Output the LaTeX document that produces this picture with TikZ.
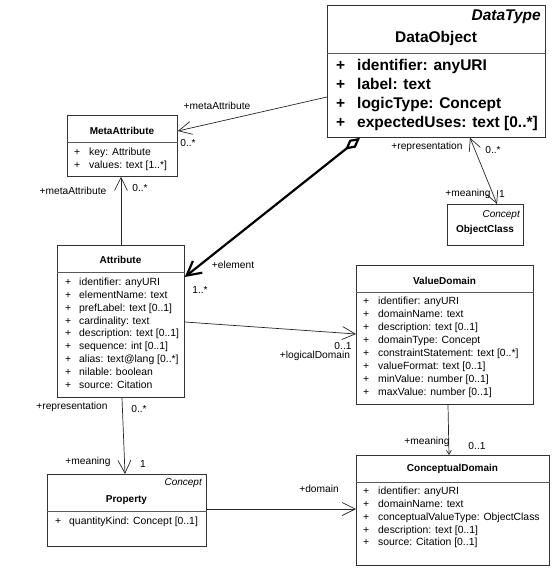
\documentclass[tikz,border=0pt]{standalone}
\usepackage{fontspec}
\setmainfont{Liberation Sans}
\usetikzlibrary{arrows.meta,calc}

\tikzset{
  classbox/.style={draw=black!80, fill=white, line width=0.8pt, inner sep=0pt, anchor=north west},
  divline/.style={draw=black!65, line width=0.8pt},
  member/.style={anchor=west, inner sep=0pt, font=\fontsize{10.4}{12}\selectfont, text height=7.6pt, text depth=2.2pt},
  bigmember/.style={anchor=west, inner sep=0pt, font=\fontsize{15.5}{18}\selectfont\bfseries, text height=11.5pt, text depth=3.3pt},
  classtitle/.style={inner sep=0pt, font=\fontsize{10}{12}\selectfont\bfseries},
  stereo/.style={anchor=east, inner sep=0pt, font=\fontsize{10}{12}\selectfont\itshape},
  rolelabel/.style={inner sep=0pt, font=\fontsize{10.2}{12}\selectfont},
  opentip/.style={-{Straight Barb[length=13pt,width=13pt]}},
  assoc/.style={draw=black!85, line width=0.7pt},
  aggr/.style={draw=black, line width=2.2pt, {Diamond[open,length=19pt,width=10pt]}-{Straight Barb[length=14pt,width=15pt]}}
}

\begin{document}
\begin{tikzpicture}[x=1pt, y=-1pt]
  \useasboundingbox (0,0) rectangle (554,571);

  % class boxes
  \node[classbox, minimum width=218pt, minimum height=132pt] (dataobj) at (327,5) {};
  \node[classbox, minimum width=110pt, minimum height=61pt] (metaattr) at (67,115) {};
  \node[classbox, minimum width=127pt, minimum height=152pt] (attrib) at (57,245) {};
  \node[classbox, minimum width=177pt, minimum height=139pt] (valdom) at (356,265) {};
  \node[classbox, minimum width=193pt, minimum height=110pt] (concdom) at (356,455) {};
  \node[classbox, minimum width=159pt, minimum height=72pt] (prop) at (47,474) {};
  \node[classbox, minimum width=76pt, minimum height=41pt] (objclass) at (447,204) {};

  % compartments
  \draw[divline] (dataobj.west |- 0,53) -- (dataobj.east |- 0,53);
  \draw[divline] (metaattr.west |- 0,142) -- (metaattr.east |- 0,142);
  \draw[divline] (attrib.west |- 0,272) -- (attrib.east |- 0,272);
  \draw[divline] (valdom.west |- 0,292) -- (valdom.east |- 0,292);
  \draw[divline] (concdom.west |- 0,482) -- (concdom.east |- 0,482);
  \draw[divline] (prop.west |- 0,511) -- (prop.east |- 0,511);

  % DataObject
  \node[stereo, font=\fontsize{15.5}{18}\selectfont\bfseries\itshape] (do-st) at (541,17) {DataType};
  \node[classtitle, font=\fontsize{15.5}{18}\selectfont\bfseries] (do-t) at (436,38) {DataObject};
  \foreach \txt [count=\i] in {identifier: anyURI, label: text, logicType: Concept, expectedUses: text [0..*]} {
    \node[bigmember] (do-p\i) at (336,{47+19*\i}) {+};
    \node[bigmember] (do-m\i) at (357,{47+19*\i}) {\txt};
  }

  % MetaAttribute
  \node[classtitle] (ma-t) at (122,131) {MetaAttribute};
  \foreach \txt [count=\i] in {key: Attribute, values: text [1..*]} {
    \node[member] (ma-p\i) at (74,{140+13*\i}) {+};
    \node[member] (ma-m\i) at (89,{140+13*\i}) {\txt};
  }

  % Attribute
  \node[classtitle] (at-t) at (120.5,260) {Attribute};
  \foreach \txt [count=\i] in {identifier: anyURI, elementName: text, prefLabel: text [0..1], cardinality: text,
      description: text [0..1], sequence: int [0..1], alias: text@lang [0..*], nilable: boolean, source: Citation} {
    \node[member] (at-p\i) at (65,{270.2+12.8*\i}) {+};
    \node[member] (at-m\i) at (79,{270.2+12.8*\i}) {\txt};
  }

  % ValueDomain
  \node[classtitle] (vd-t) at (444.5,281) {ValueDomain};
  \foreach \txt [count=\i] in {identifier: anyURI, domainName: text, description: text [0..1], domainType: Concept,
      constraintStatement: text [0..*], valueFormat: text [0..1], minValue: number [0..1], maxValue: number [0..1]} {
    \node[member] (vd-p\i) at (363,{289+13*\i}) {+};
    \node[member] (vd-m\i) at (378,{289+13*\i}) {\txt};
  }

  % ConceptualDomain
  \node[classtitle] (cd-t) at (452.5,469) {ConceptualDomain};
  \foreach \txt [count=\i] in {identifier: anyURI, domainName: text, conceptualValueType: ObjectClass,
      description: text [0..1], source: Citation [0..1]} {
    \node[member] (cd-p\i) at (363,{479.2+12.8*\i}) {+};
    \node[member] (cd-m\i) at (378,{479.2+12.8*\i}) {\txt};
  }

  % Property
  \node[stereo] (pr-st) at (202,483) {Concept};
  \node[classtitle] (pr-t) at (126.5,500) {Property};
  \node[member] (pr-p1) at (55,522) {+};
  \node[member] (pr-m1) at (69,522) {quantityKind: Concept [0..1]};

  % ObjectClass
  \node[stereo] (oc-st) at (520,215) {Concept};
  \node[classtitle] (oc-t) at (485,230) {ObjectClass};

  % associations
  \draw[assoc, opentip] ($(dataobj.north west)+(0,92)$) -- ($(metaattr.north east)+(0,16)$);
  \draw[assoc, opentip] ($(attrib.north west)+(64,0)$) -- ($(metaattr.south west)+(54,0)$);
  \draw[aggr] ($(dataobj.south west)+(33,0)$) -- ($(attrib.north east)+(0,32)$);
  \draw[assoc, opentip] ($(attrib.north east)+(0,77)$) -- ($(valdom.north west)+(0,69)$);
  \draw[assoc, opentip] ($(attrib.south west)+(65,0)$) -- ($(prop.north west)+(78,0)$);
  \draw[assoc, opentip] ($(prop.north east)+(0,35)$) -- ($(concdom.north west)+(0,54)$);
  \draw[assoc, {Straight Barb[length=12pt,width=12pt]}-{Straight Barb[length=12pt,width=12pt]}]
    ($(dataobj.south west)+(143,0)$) -- ($(objclass.north west)+(50,0)$);
  \draw[assoc, -{Straight Barb[length=4pt,width=5pt]}] ($(valdom.south west)+(92,0)$) -- ($(concdom.north west)+(93,0)$);

  % role names and multiplicities
  \node[rolelabel] (r1a) at (217,106) {+metaAttribute};
  \node[rolelabel] (r1b) at (188,143) {0..*};
  \node[rolelabel] (r2a) at (73,191) {+metaAttribute};
  \node[rolelabel] (r2b) at (140,188) {0..*};
  \node[rolelabel] (r3a) at (233,265) {+element};
  \node[rolelabel] (r3b) at (200,290) {1..*};
  \node[rolelabel] (r4a) at (343,346) {0..1};
  \node[rolelabel] (r4b) at (315,356) {+logicalDomain};
  \node[rolelabel] (r5a) at (72,407) {+representation};
  \node[rolelabel] (r5b) at (139,409) {0..*};
  \node[rolelabel] (r5c) at (88,462) {+meaning};
  \node[rolelabel] (r5d) at (143,464) {1};
  \node[rolelabel] (r6a) at (319,489) {+domain};
  \node[rolelabel] (r7a) at (427,147) {+representation};
  \node[rolelabel] (r7b) at (493,150) {0..*};
  \node[rolelabel] (r7c) at (468,194) {+meaning};
  \node[rolelabel] (r7d) at (502,194) {1};
  \node[rolelabel] (r8a) at (427,442) {+meaning};
  \node[rolelabel] (r8b) at (477,446) {0..1};
\end{tikzpicture}
\end{document}
